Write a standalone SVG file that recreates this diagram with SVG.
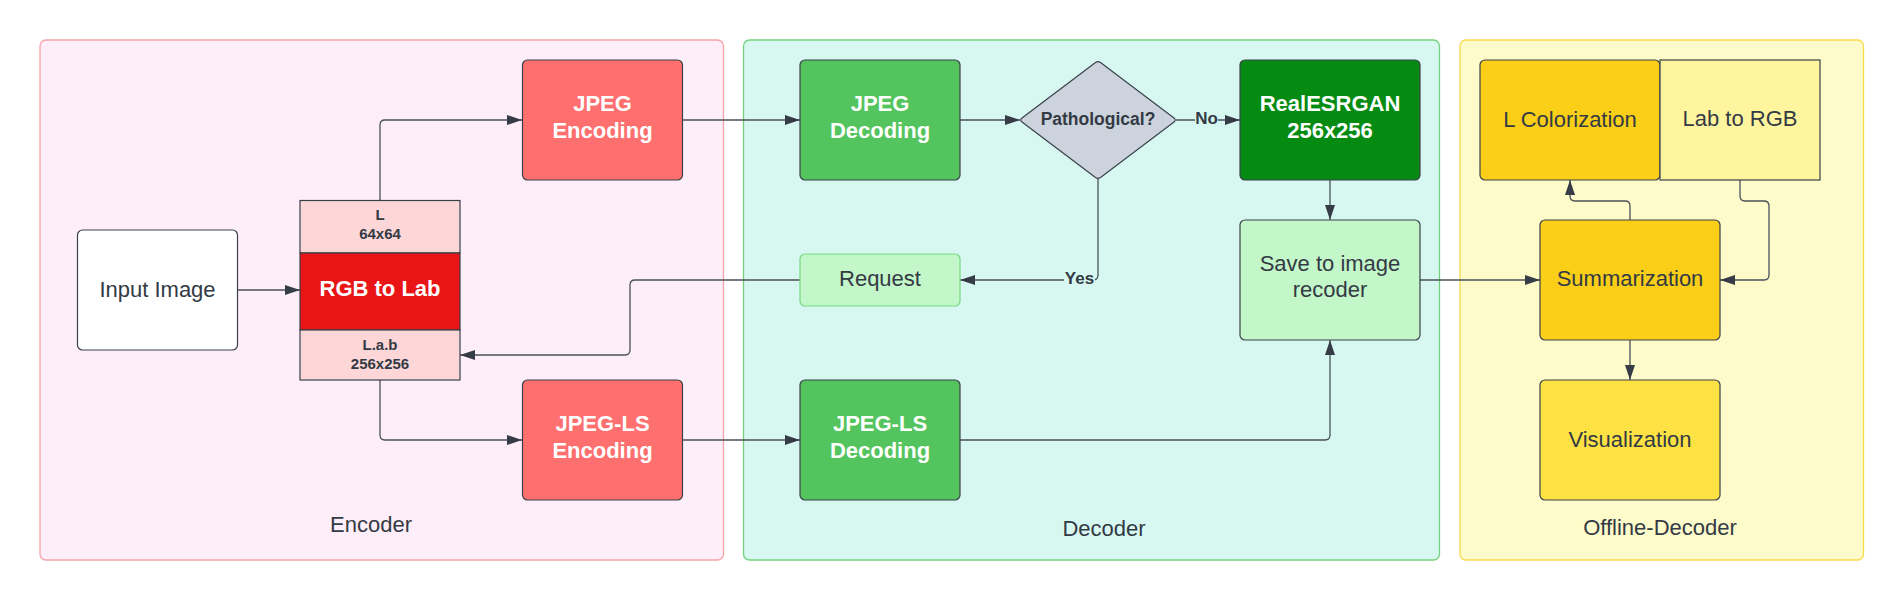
<svg xmlns="http://www.w3.org/2000/svg" width="1904" height="600" viewBox="0 0 1904 600">
<defs>
<marker id="arr" markerUnits="userSpaceOnUse" markerWidth="16" markerHeight="12" refX="15" refY="5" orient="auto">
<path d="M0,0 L15,5 L0,10 z" fill="#353c46"/>
</marker>
<style>
.t{font-family:"Liberation Sans",Arial,sans-serif;text-anchor:middle}
.n{font-size:22px;fill:#333a44}
.w{font-size:22px;fill:#ffffff;font-weight:bold}
.s{font-size:15px;fill:#333a44;font-weight:bold}
.lbl{font-size:17px;fill:#333a44;font-weight:bold}
.node{stroke:#3a414a;stroke-width:1.2}
.c{fill:none;stroke:#4a5059;stroke-width:1.3;marker-end:url(#arr)}
</style>
</defs>
<rect width="1904" height="600" fill="#ffffff"/>

<g id="encoder-group">
<rect x="40" y="40" width="683.5" height="520" rx="6" fill="#fdeef9" stroke="#f7a3a6" stroke-width="1.3"/>
<text class="t n" x="371" y="532">Encoder</text>
</g>
<g id="decoder-group">
<rect x="743.5" y="40" width="696" height="520" rx="6" fill="#d6f8f1" stroke="#74d27f" stroke-width="1.3"/>
<text class="t n" x="1104" y="535.5">Decoder</text>
</g>
<g id="offline-group">
<rect x="1460" y="40" width="403.5" height="520" rx="6" fill="#fdfbca" stroke="#f9da4c" stroke-width="1.3"/>
<text class="t n" x="1660" y="535">Offline-Decoder</text>
</g>

<g id="connectors">
<path class="c" d="M237,290 H300"/>
<path class="c" d="M380,200 V125 Q380,120 385,120 H522"/>
<path class="c" d="M380,380 V435 Q380,440 385,440 H522"/>
<path class="c" d="M682,120 H800"/>
<path class="c" d="M682,440 H800"/>
<path class="c" d="M960,120 H1020"/>
<path class="c" d="M1176,120 H1240"/>
<path class="c" d="M1098,178 V275 Q1098,280 1093,280 H960"/>
<path class="c" d="M800,280 H635 Q630,280 630,285 V350 Q630,355 625,355 H460"/>
<path class="c" d="M1330,180 V220"/>
<path class="c" d="M960,440 H1325 Q1330,440 1330,435 V340"/>
<path class="c" d="M1420,280 H1540"/>
<path class="c" d="M1630,220 V206 Q1630,201 1625,201 H1575 Q1570,201 1570,196 V180"/>
<path class="c" d="M1740,180 V196 Q1740,201 1745,201 H1764 Q1769,201 1769,206 V275 Q1769,280 1764,280 H1720"/>
<path class="c" d="M1630,340 V380"/>
<rect x="1195" y="109" width="23" height="18" fill="#d6f8f1"/>
<text class="t lbl" x="1206.5" y="123.5">No</text>
<rect x="1064" y="269" width="31" height="18" fill="#d6f8f1"/>
<text class="t lbl" x="1079.5" y="283.5">Yes</text>
</g>

<g id="input-image">
<rect class="node" x="77.5" y="230" width="160" height="120" rx="5" fill="#ffffff"/>
<text class="t n" x="157.5" y="296.5">Input Image</text>
</g>

<g id="rgb-to-lab">
<rect class="node" x="300" y="200.5" width="160" height="52.5" fill="#fdd7d8"/>
<rect class="node" x="300" y="253" width="160" height="77" fill="#e81416"/>
<rect class="node" x="300" y="330" width="160" height="50" fill="#fdd7d8"/>
<text class="t s" x="380" y="220">L</text>
<text class="t s" x="380" y="239">64x64</text>
<text class="t w" x="380" y="296">RGB to Lab</text>
<text class="t s" x="380" y="350">L.a.b</text>
<text class="t s" x="380" y="368.5">256x256</text>
</g>

<g id="jpeg-encoding">
<rect class="node" x="522.5" y="60" width="160" height="120" rx="5" fill="#fe6f6f"/>
<text class="t w" x="602.5" y="111">JPEG</text>
<text class="t w" x="602.5" y="137.5">Encoding</text>
</g>

<g id="jpegls-encoding">
<rect class="node" x="522.5" y="380" width="160" height="120" rx="5" fill="#fe6f6f"/>
<text class="t w" x="602.5" y="431">JPEG-LS</text>
<text class="t w" x="602.5" y="457.5">Encoding</text>
</g>

<g id="jpeg-decoding">
<rect class="node" x="800" y="60" width="160" height="120" rx="5" fill="#54c45e"/>
<text class="t w" x="880" y="111">JPEG</text>
<text class="t w" x="880" y="137.5">Decoding</text>
</g>

<g id="pathological">
<path class="node" d="M1095.5,62.5 Q1098,60.8 1100.5,62.5 L1174,118 Q1176.5,120 1174,122 L1100.5,177.5 Q1098,179.2 1095.5,177.5 L1022,122 Q1019.5,120 1022,118 Z" fill="#cdd3dc"/>
<text class="t lbl" x="1098" y="124.5" style="font-size:17.5px">Pathological?</text>
</g>

<g id="request">
<rect x="800" y="254" width="160" height="52" rx="5" fill="#c3f6c8" stroke="#77d983" stroke-width="1.2"/>
<text class="t n" x="880" y="286">Request</text>
</g>

<g id="jpegls-decoding">
<rect class="node" x="800" y="380" width="160" height="120" rx="5" fill="#54c45e"/>
<text class="t w" x="880" y="431">JPEG-LS</text>
<text class="t w" x="880" y="457.5">Decoding</text>
</g>

<g id="realesrgan">
<rect class="node" x="1240" y="60" width="180" height="120" rx="5" fill="#058a12"/>
<text class="t w" x="1330" y="111">RealESRGAN</text>
<text class="t w" x="1330" y="137.5">256x256</text>
</g>

<g id="save-recoder">
<rect class="node" x="1240" y="220" width="180" height="120" rx="5" fill="#c3f6c8"/>
<text class="t n" x="1330" y="271">Save to image</text>
<text class="t n" x="1330" y="297">recoder</text>
</g>

<g id="l-colorization">
<rect class="node" x="1480" y="60" width="180" height="120" rx="5" fill="#fbcf17"/>
<text class="t n" x="1570" y="126.5">L Colorization</text>
</g>

<g id="lab-to-rgb">
<rect class="node" x="1660" y="60" width="160" height="120" fill="#fff59f"/>
<text class="t n" x="1740" y="125.5">Lab to RGB</text>
</g>

<g id="summarization">
<rect class="node" x="1540" y="220" width="180" height="120" rx="5" fill="#fbcf17"/>
<text class="t n" x="1630" y="286">Summarization</text>
</g>

<g id="visualization">
<rect class="node" x="1540" y="380" width="180" height="120" rx="5" fill="#fee243"/>
<text class="t n" x="1630" y="446.5">Visualization</text>
</g>
</svg>
